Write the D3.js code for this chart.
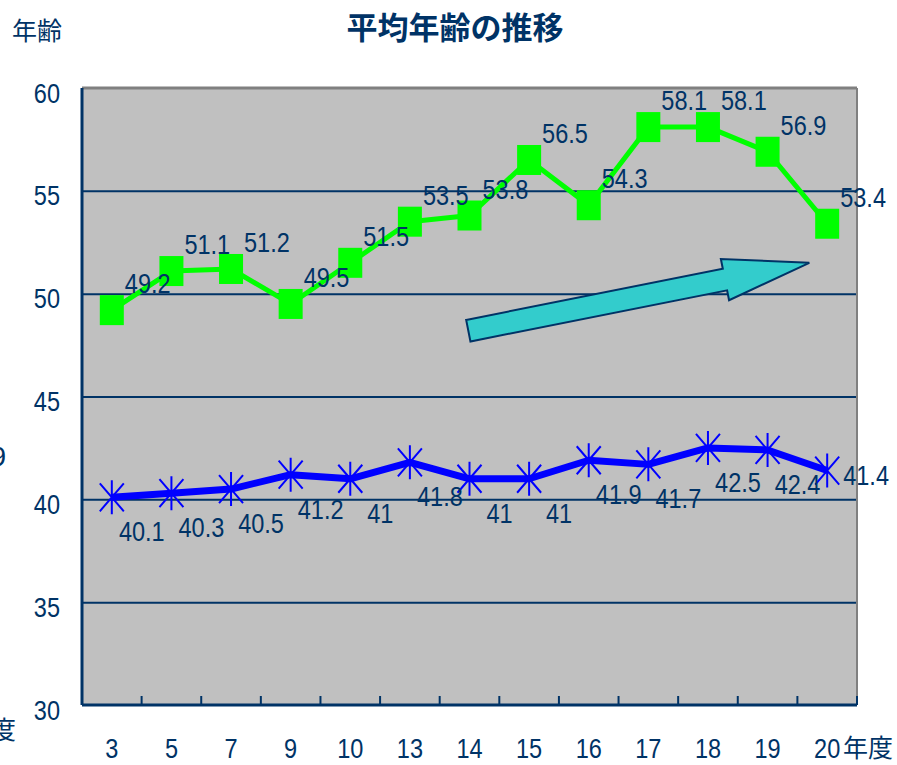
<!DOCTYPE html>
<html>
<head>
<meta charset="utf-8">
<script src="https://cdn.jsdelivr.net/npm/d3@7"></script>
<style>
  body { margin: 0; background: #fff; }
  svg text { fill: #003366; }
  .num { font-family: "Liberation Sans", Arial, sans-serif; font-size: 28px; }
  .jp { font-family: "Noto Sans CJK JP", sans-serif; }
</style>
</head>
<body>
<div id="chart"></div>
<script>
// data
var years = ["3", "5", "7", "9", "10", "13", "14", "15", "16", "17", "18", "19", "20"];
var oldAge = [49.2, 51.1, 51.2, 49.5, 51.5, 53.5, 53.8, 56.5, 54.3, 58.1, 58.1, 56.9, 53.4];
var youngAge = [40.1, 40.3, 40.5, 41.2, 41, 41.8, 41, 41, 41.9, 41.7, 42.5, 42.4, 41.4];
var yTicks = [30, 35, 40, 45, 50, 55, 60];

var navy = "#003366";
var W = 897, H = 765;
var margin = {top: 88, left: 82, right: 40, bottom: 60},
    width = 857 - margin.left,
    height = 705 - margin.top;

// squeeze numbers horizontally, the original uses a condensed face
function narrow(sel) {
  sel.each(function() {
    var w = this.getComputedTextLength();
    d3.select(this).attr("textLength", w * 0.84).attr("lengthAdjust", "spacingAndGlyphs");
  });
}

var svg = d3.select("#chart").append("svg")
  .attr("width", W)
  .attr("height", H);

var x = d3.scaleBand().domain(years).range([0, width]);
var y = d3.scaleLinear().domain([30, 60]).range([height, 0]);
var cx = function(i) { return x(years[i]) + x.bandwidth() / 2; };

var g = svg.append("g").attr("transform", "translate(" + margin.left + "," + margin.top + ")");

// plot background
g.append("rect")
  .attr("width", width)
  .attr("height", height)
  .style("fill", "#C0C0C0");

// gridlines
g.append("g")
  .call(d3.axisLeft(y).tickValues([35, 40, 45, 50, 55]).tickSize(-width).tickFormat(""))
  .call(function(s) {
    s.select(".domain").remove();
    s.selectAll("line").style("stroke", navy).style("stroke-width", 2);
  });

// frame: top/right gray, left/bottom navy
g.append("line").attr("x1", 0).attr("x2", width).attr("y1", 0).attr("y2", 0)
  .style("stroke", "#808080").style("stroke-width", 3);
g.append("line").attr("x1", width).attr("x2", width).attr("y1", 0).attr("y2", height)
  .style("stroke", "#808080").style("stroke-width", 2);
g.append("line").attr("x1", 0).attr("x2", 0).attr("y1", 0).attr("y2", height)
  .style("stroke", navy).style("stroke-width", 3);
g.append("line").attr("x1", 0).attr("x2", width).attr("y1", height).attr("y2", height)
  .style("stroke", navy).style("stroke-width", 3);

// inner tick marks between categories
g.selectAll(".cattick")
  .data(d3.range(years.length + 1))
  .enter()
  .append("line")
  .attr("class", "cattick")
  .attr("x1", function(i) { return i * x.step(); })
  .attr("x2", function(i) { return i * x.step(); })
  .attr("y1", height)
  .attr("y2", height - 9)
  .style("stroke", navy)
  .style("stroke-width", 2);

// y axis labels
g.append("g")
  .call(d3.axisLeft(y).tickValues(yTicks).tickSize(0).tickPadding(22))
  .call(function(s) {
    s.select(".domain").remove();
    s.selectAll("text").attr("class", "num").attr("dy", "0.5em").style("fill", navy).call(narrow);
  });

// x axis labels
g.append("g")
  .attr("transform", "translate(0," + height + ")")
  .call(d3.axisBottom(x).tickSize(0))
  .call(function(s) {
    s.select(".domain").remove();
    s.selectAll("text").attr("class", "num").attr("dy", null).attr("y", 53).style("fill", navy).call(narrow);
  });

// trend arrow (annotation, positioned in chart units)
var a0 = [x.step() * 6.48, y(48.2)], a1 = [x.step() * 12.2, y(51.5)];
var ang = Math.atan2(a1[1] - a0[1], a1[0] - a0[0]);
var len = Math.hypot(a1[0] - a0[0], a1[1] - a0[1]);
var shaftHalf = 11, headHalf = 21, headLen = 86;
var arrowPts = [
  [0, -shaftHalf], [len - headLen, -shaftHalf], [len - headLen, -headHalf],
  [len, 0], [len - headLen, headHalf], [len - headLen, shaftHalf], [0, shaftHalf]
];
g.append("polygon")
  .attr("points", arrowPts.map(function(p) { return p.join(","); }).join(" "))
  .attr("transform", "translate(" + a0[0] + "," + a0[1] + ") rotate(" + (ang * 180 / Math.PI) + ")")
  .style("fill", "#33CCCC")
  .style("stroke", navy)
  .style("stroke-width", 2)
  .style("stroke-linejoin", "miter");

var line = d3.line()
  .x(function(d, i) { return cx(i); })
  .y(function(d) { return y(d); });

// green series
g.append("path")
  .datum(oldAge)
  .attr("d", line)
  .style("fill", "none")
  .style("stroke", "#00FF00")
  .style("stroke-width", 5)
  .style("stroke-linejoin", "round");

g.selectAll(".sq")
  .data(oldAge)
  .enter()
  .append("rect")
  .attr("class", "sq")
  .attr("x", function(d, i) { return cx(i) - 12; })
  .attr("y", function(d) { return y(d) - 15; })
  .attr("width", 24)
  .attr("height", 30)
  .style("fill", "#00FF00");

// blue series
g.append("path")
  .datum(youngAge)
  .attr("d", line)
  .style("fill", "none")
  .style("stroke", "#0000FF")
  .style("stroke-width", 7)
  .style("stroke-linejoin", "round");

var star = "M-12,-14L12,14M-12,14L12,-14M0,-17L0,17";
g.selectAll(".star")
  .data(youngAge)
  .enter()
  .append("path")
  .attr("class", "star")
  .attr("d", star)
  .attr("transform", function(d, i) { return "translate(" + cx(i) + "," + y(d) + ")"; })
  .style("fill", "none")
  .style("stroke", "#0000FF")
  .style("stroke-width", 2);

// data labels
g.selectAll(".lblOld")
  .data(oldAge)
  .enter()
  .append("text")
  .attr("class", "num")
  .attr("x", function(d, i) { return cx(i) + 13; })
  .attr("y", function(d) { return y(d) - 17; })
  .text(function(d) { return d; })
  .call(narrow);

g.selectAll(".lblYoung")
  .data(youngAge)
  .enter()
  .append("text")
  .attr("class", "num")
  .attr("text-anchor", function(d, i) { return i === youngAge.length - 1 ? "start" : "middle"; })
  .attr("x", function(d, i) { return i === youngAge.length - 1 ? cx(i) + 16 : cx(i) + 30; })
  .attr("y", function(d, i) { return i === youngAge.length - 1 ? y(d) + 14 : y(d) + 44; })
  .text(function(d) { return d; })
  .call(narrow);

// titles
svg.append("text")
  .attr("class", "jp")
  .attr("x", 455)
  .attr("y", 39)
  .attr("text-anchor", "middle")
  .style("font-size", "31px")
  .style("font-weight", "bold")
  .text("平均年齢の推移");

svg.append("text")
  .attr("class", "jp")
  .attr("x", 12)
  .attr("y", 40)
  .style("font-size", "25px")
  .text("年齢");

svg.append("text")
  .attr("class", "jp")
  .attr("x", 843)
  .attr("y", 757)
  .style("font-size", "25px")
  .text("年度");

// clipped leftovers at the left edge
svg.append("text")
  .attr("class", "num")
  .attr("x", 6)
  .attr("y", 466)
  .attr("text-anchor", "end")
  .text("9");
svg.append("text")
  .attr("class", "jp")
  .attr("x", 16)
  .attr("y", 739)
  .attr("text-anchor", "end")
  .style("font-size", "25px")
  .text("度");
</script>
</body>
</html>
